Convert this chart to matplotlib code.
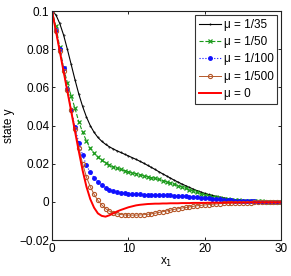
import numpy as np
import matplotlib
matplotlib.use("Agg")
import matplotlib.pyplot as plt

plt.rcParams["font.family"] = ["Liberation Sans", "DejaVu Sans"]

X_STEP = 0.5

MU_35 = [0.100, 0.098, 0.0935, 0.0875, 0.080, 0.072, 0.064, 0.0565, 0.050, 0.0445,
         0.040, 0.0365, 0.0338, 0.0318, 0.0302, 0.0289, 0.0278, 0.0268, 0.0259, 0.0250,
         0.0241, 0.0232, 0.0223, 0.0213, 0.0203, 0.0192, 0.0181, 0.0170, 0.0158, 0.0147,
         0.0136, 0.0125, 0.0114, 0.0104, 0.0094, 0.0085, 0.0076, 0.0067, 0.0059, 0.0052,
         0.0045, 0.0039, 0.0034, 0.0029, 0.0025, 0.0021, 0.0017, 0.0014, 0.0012, 0.0010,
         0.0008, 0.0007, 0.0006, 0.0005, 0.0004, 0.0003, 0.0003, 0.0002, 0.0002, 0.0001,
         0.0001]

MU_50 = [0.100, 0.092, 0.081, 0.070, 0.0625, 0.0555, 0.049, 0.042, 0.0365, 0.032,
         0.028, 0.0255, 0.0235, 0.0218, 0.0205, 0.0194, 0.0185, 0.0177, 0.0170, 0.0164,
         0.0158, 0.0153, 0.0148, 0.0143, 0.0138, 0.0133, 0.0128, 0.0123, 0.0118, 0.0112,
         0.0106, 0.0100, 0.0093, 0.0086, 0.0079, 0.0072, 0.0064, 0.0057, 0.0050, 0.0044,
         0.0038, 0.0033, 0.0028, 0.0024, 0.0020, 0.0017, 0.0014, 0.0012, 0.0010, 0.0008,
         0.0007, 0.0006, 0.0005, 0.0004, 0.0003, 0.0003, 0.0002, 0.0002, 0.0001, 0.0001,
         0.0001]

MU_100 = [0.100, 0.090, 0.080, 0.070, 0.059, 0.048, 0.039, 0.031, 0.0245, 0.0192,
          0.0155, 0.0127, 0.0105, 0.0088, 0.0074, 0.0064, 0.0057, 0.0052, 0.0048, 0.0045,
          0.0043, 0.0041, 0.0040, 0.0039, 0.0038, 0.0037, 0.0037, 0.0036, 0.0036, 0.0035,
          0.0035, 0.0034, 0.0033, 0.0032, 0.0031, 0.0030, 0.0028, 0.0027, 0.0025, 0.0023,
          0.0021, 0.0019, 0.0017, 0.0015, 0.0013, 0.0011, 0.0010, 0.0008, 0.0007, 0.0006,
          0.0005, 0.0004, 0.0003, 0.0003, 0.0002, 0.0002, 0.0001, 0.0001, 0.0001, 0.0001,
          0.0000]

MU_500 = [0.100, 0.0895, 0.0790, 0.0687, 0.0585, 0.0482, 0.0380, 0.0285, 0.0200, 0.0130,
          0.0080, 0.0040, 0.0008, -0.0015, -0.0035, -0.0048, -0.0057, -0.0063, -0.0066, -0.0068,
          -0.0069, -0.0069, -0.0069, -0.0068, -0.0067, -0.0065, -0.0062, -0.0059, -0.0055, -0.0051,
          -0.0047, -0.0043, -0.0039, -0.0036, -0.0032, -0.0029, -0.0026, -0.0023, -0.0020, -0.0018,
          -0.0016, -0.0014, -0.0012, -0.0011, -0.0009, -0.0008, -0.0007, -0.0006, -0.0005, -0.0004,
          -0.0004, -0.0003, -0.0003, -0.0002, -0.0002, -0.0002, -0.0001, -0.0001, -0.0001, -0.0001,
          -0.0001]

MU_0 = [0.100, 0.0895, 0.0790, 0.0685, 0.0580, 0.0475, 0.0370, 0.0265, 0.0165, 0.0080,
        0.0015, -0.0030, -0.0060, -0.0073, -0.0077, -0.0070, -0.0060, -0.0050, -0.0042, -0.0035,
        -0.0028, -0.0023, -0.0018, -0.0015, -0.0013, -0.0011, -0.0010, -0.0009, -0.0009, -0.0008,
        -0.0008, -0.0007, -0.0007, -0.0007, -0.0006, -0.0006, -0.0006, -0.0005, -0.0005, -0.0005,
        -0.0005, -0.0004, -0.0004, -0.0004, -0.0004, -0.0004, -0.0003, -0.0003, -0.0003, -0.0003,
        -0.0003, -0.0003, -0.0002, -0.0002, -0.0002, -0.0002, -0.0002, -0.0002, -0.0002, -0.0002,
        -0.0002]

LABELS = ["\u03bc = 1/35", "\u03bc = 1/50", "\u03bc = 1/100", "\u03bc = 1/500", "\u03bc = 0"]
X_TICKS = [0, 10, 20, 30]
Y_TICKS = [-0.02, 0, 0.02, 0.04, 0.06, 0.08, 0.1]
Y_TICK_LABELS = ["\u22120.02", "0", "0.02", "0.04", "0.06", "0.08", "0.1"]

x = np.arange(len(MU_35)) * X_STEP

fig = plt.figure(figsize=(2.91, 2.76), dpi=100)
ax = fig.add_axes([0.179, 0.130, 0.787, 0.830])

ax.plot(x, MU_35, "-", color="black", lw=0.8, marker=".", ms=0.8, label=LABELS[0])
ax.plot(x, MU_50, "--", color="#1a9a1a", lw=0.8, marker="x", ms=2.5, mew=0.9, label=LABELS[1])
ax.plot(x, MU_100, ":", color="#1010ff", lw=0.8, marker=".", ms=5, label=LABELS[2])
ax.plot(x, MU_500, "-", color="#b5582a", lw=0.7, marker="o", ms=3.0, mfc="none", mew=0.8,
        label=LABELS[3])
ax.plot(x, MU_0, "-", color="#ff0000", lw=1.4, label=LABELS[4])

ax.set_xlim(0, 30)
ax.set_ylim(-0.02, 0.1)
ax.set_xticks(X_TICKS)
ax.set_yticks(Y_TICKS)
ax.set_yticklabels(Y_TICK_LABELS)
ax.tick_params(direction="in", length=2.5, width=0.6, labelsize=8.5, top=True, right=True, pad=2)
for s in ax.spines.values():
    s.set_linewidth(0.8)
    s.set_color("#222222")

ax.set_xlabel("x$_1$", fontsize=8.5, labelpad=1)
ax.set_ylabel("state y", fontsize=8.5, labelpad=3)

leg = ax.legend(loc="upper right", fontsize=8.5, frameon=True, fancybox=False,
                borderaxespad=0.35, handlelength=1.9, handletextpad=0.2,
                labelspacing=0.45, borderpad=0.3)
leg.get_frame().set_edgecolor("black")
leg.get_frame().set_linewidth(0.8)

fig.savefig("out.png", dpi=100)
